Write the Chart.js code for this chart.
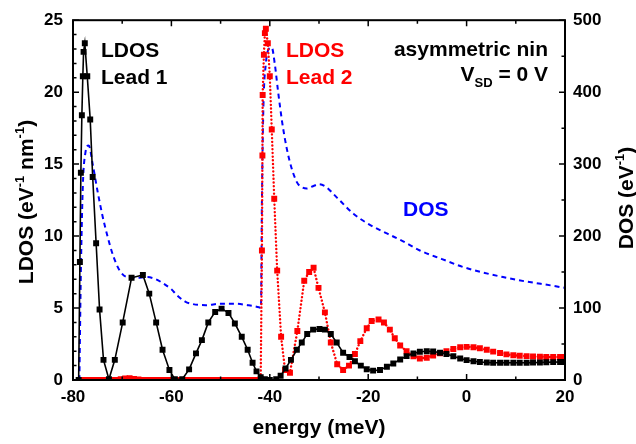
<!DOCTYPE html>
<html><head><meta charset="utf-8">
<script src="https://cdn.jsdelivr.net/npm/chart.js@4.4.1/dist/chart.umd.min.js"></script>
<style>html,body{margin:0;padding:0;background:#fff;}#wrap{width:636px;height:444px;}</style>
</head><body><div id="wrap"><canvas id="c" width="636" height="444"></canvas></div>
<script>
// ---- data ----
const energyLead1 = [-78.85,-78.6,-78.4,-78.2,-78.0,-77.85,-77.6,-77.1,-76.5,-76.0,-75.3,-74.6,-73.8,-72.7,-71.5,-69.9,-68.1,-65.8,-64.5,-63.1,-61.8,-60.4,-59.3,-57.8,-56.4,-55.0,-53.8,-52.5,-51.1,-49.8,-48.4,-47.1,-45.7,-44.5,-43.5,-42.7,-41.85,-41.0,-40.0,-38.7,-37.8,-36.8,-35.7,-34.5,-33.5,-32.4,-31.2,-29.9,-28.8,-27.6,-26.4,-25.1,-23.8,-22.7,-21.5,-20.3,-19.0,-17.6,-16.2,-14.9,-13.5,-12.2,-10.8,-9.5,-8.1,-6.8,-5.4,-4.1,-2.7,-1.3,0.0,1.4,2.7,4.1,5.4,6.8,8.1,9.5,10.8,12.2,13.5,14.9,16.2,17.6,19.0,20.0];
const ldosLead1 = [0,8.2,14.4,18.4,21.1,22.8,23.4,21.1,18.1,14.1,9.5,4.9,1.4,0.05,1.4,4.0,7.1,7.3,6.0,4.0,2.1,0.7,0.05,0.05,0.74,1.85,2.77,4.0,4.73,4.96,4.66,3.93,3.0,2.1,1.2,0.6,0.2,0.05,0.0,0.05,0.3,0.8,1.4,2.1,2.6,3.2,3.5,3.55,3.5,3.2,2.6,1.9,1.6,1.3,1.0,0.75,0.65,0.7,0.92,1.15,1.43,1.66,1.84,1.96,2.0,1.98,1.9,1.8,1.65,1.5,1.38,1.3,1.25,1.22,1.2,1.2,1.2,1.2,1.2,1.2,1.21,1.22,1.23,1.24,1.25,1.25];

const energyLead2 = [-78.4,-77.5,-76.6,-75.7,-74.8,-73.9,-73.0,-72.1,-71.2,-70.3,-69.4,-68.5,-67.6,-66.7,-65.8,-64.9,-64.0,-63.1,-62.2,-61.3,-60.4,-59.5,-58.6,-57.7,-56.8,-55.9,-55.0,-54.1,-53.2,-52.3,-51.4,-50.5,-49.6,-48.7,-47.8,-46.9,-46.0,-45.1,-44.2,-43.3,-42.4,-41.85,-41.6,-41.5,-41.45,-41.2,-41.0,-40.8,-40.4,-40.0,-39.6,-39.1,-38.5,-37.7,-36.9,-35.9,-34.4,-33.0,-32.0,-31.1,-30.1,-28.8,-27.6,-26.3,-25.1,-23.9,-22.7,-21.6,-20.3,-19.3,-17.9,-16.8,-15.6,-14.6,-13.5,-12.2,-10.8,-9.5,-8.1,-6.8,-5.4,-4.1,-2.7,-1.3,0.0,1.4,2.7,4.1,5.4,6.8,8.1,9.5,10.8,12.2,13.5,14.9,16.2,17.6,19.0,20.0];
const ldosLead2 = [0,0,0,0,0,0,0,0,0,0.05,0.1,0.12,0.08,0.03,0,0,0,0,0,0,0,0,0,0,0,0,0,0,0,0,0,0,0,0,0,0,0,0,0,0,0,0.07,9.0,15.6,19.8,22.6,24.1,24.4,23.4,21.1,17.4,12.6,7.6,3.0,0.7,0.5,3.4,6.9,7.5,7.8,6.4,4.7,2.6,1.1,0.7,1.0,1.8,2.7,3.6,4.1,4.2,4.0,3.5,2.9,2.4,2.0,1.65,1.5,1.55,1.7,1.85,2.0,2.15,2.28,2.3,2.28,2.2,2.1,1.97,1.88,1.78,1.72,1.68,1.66,1.63,1.62,1.6,1.6,1.6,1.6];

const energyDos = [-78.7,-78.4,-78.0,-77.5,-76.8,-76.0,-75.0,-74.0,-73.0,-71.8,-70.5,-69.0,-67.0,-65.0,-63.5,-61.6,-60.0,-58.9,-57.2,-56.0,-53.0,-50.0,-47.0,-44.5,-42.2,-41.8,-41.6,-41.3,-40.8,-40.2,-39.6,-39.0,-38.3,-37.3,-36.0,-34.5,-33.5,-32.5,-31.0,-30.0,-28.5,-27.0,-25.7,-23.0,-20.0,-16.0,-13.0,-9.5,-5.0,-0.7,3.0,7.4,12.0,17.5,20.0];
const dosValues = [0,150,270,315,326,300,262,228,200,172,152,143,142,143,141,134,126,118,109,106,104,106,106,104,101,100,250,380,440,460,462,440,400,350,305,275,268,266,270,272,268,258,249,231,217,203,193,180,168,157,150,143,137,131,128];

const xTickLabels = [-80,-60,-40,-20,0,20];
const ldosTickLabels = [0,5,10,15,20,25];
const dosTickLabels = [0,100,200,300,400,500];

// ---- styling ----
const FONT = '"Liberation Sans", Arial, Helvetica, sans-serif';
const pts = (xs, ys) => xs.map((v, i) => ({x: v, y: ys[i]}));

function richText(ctx, parts, x, y, size, align) {
  let w = 0;
  parts.forEach(p => {
    ctx.font = 'bold ' + (p.s ? Math.round(size * 0.62) : size) + 'px ' + FONT;
    p.w = ctx.measureText(p.t).width; w += p.w;
  });
  let cx = align === 'center' ? x - w / 2 : (align === 'right' ? x - w : x);
  parts.forEach(p => {
    ctx.font = 'bold ' + (p.s ? Math.round(size * 0.62) : size) + 'px ' + FONT;
    const dy = p.s === 'sup' ? -size * 0.42 : (p.s === 'sub' ? size * 0.28 : 0);
    ctx.fillText(p.t, cx, y + dy);
    cx += p.w;
  });
}

const decor = {
  id: 'decor',
  afterDraw(chart) {
    const {ctx, chartArea: {left, right, top, bottom}, scales: {x, y, y2}} = chart;
    ctx.save();
    ctx.strokeStyle = '#000';
    ctx.lineWidth = 1.5;
    ctx.beginPath();
    const tick = (sx, sy, dx, dy) => { ctx.moveTo(sx, sy); ctx.lineTo(sx + dx, sy + dy); };
    for (let v = x.min; v <= x.max + 1e-9; v += 10) {
      const px = x.getPixelForValue(v);
      const L = (Math.round(v) % 20 === 0) ? 6 : 3.5;
      tick(px, bottom, 0, -L); tick(px, top, 0, L);
    }
    for (let v = y.min; v <= y.max + 1e-9; v += 1) {
      const py = y.getPixelForValue(v);
      tick(left, py, (Math.round(v) % 5 === 0) ? 6 : 3.5, 0);
    }
    for (let v = y2.min; v <= y2.max + 1e-9; v += 50) {
      const py = y2.getPixelForValue(v);
      tick(right, py, -((Math.round(v) % 100 === 0) ? 6 : 3.5), 0);
    }
    ctx.stroke();
    ctx.lineWidth = 2;
    ctx.strokeRect(left, top, right - left, bottom - top);

    // annotations
    ctx.textBaseline = 'alphabetic';
    ctx.textAlign = 'left';
    ctx.fillStyle = '#000';
    ctx.font = 'bold 21px ' + FONT;
    ctx.fillText('LDOS', 101, 57);
    ctx.fillText('Lead 1', 101, 84);
    ctx.fillStyle = '#ff0000';
    ctx.fillText('LDOS', 286, 57);
    ctx.fillText('Lead 2', 286, 84);
    ctx.fillStyle = '#000';
    richText(ctx, [{t: 'asymmetric nin'}], 548, 56, 21, 'right');
    richText(ctx, [{t: 'V'}, {t: 'SD', s: 'sub'}, {t: ' = 0 V'}], 548, 81, 21, 'right');
    ctx.fillStyle = '#0000ff';
    richText(ctx, [{t: 'DOS'}], 403, 216, 21, 'left');

    // axis titles
    ctx.fillStyle = '#000';
    richText(ctx, [{t: 'energy (meV)'}], (left + right) / 2, 434, 21, 'center');
    ctx.save();
    ctx.translate(33, 202); ctx.rotate(-Math.PI / 2);
    richText(ctx, [{t: 'LDOS (eV'}, {t: '-1', s: 'sup'}, {t: ' nm'}, {t: '-1', s: 'sup'}, {t: ')'}], 0, 0, 21, 'center');
    ctx.restore();
    ctx.save();
    ctx.translate(633, 198); ctx.rotate(-Math.PI / 2);
    richText(ctx, [{t: 'DOS (eV'}, {t: '-1', s: 'sup'}, {t: ')'}], 0, 0, 21, 'center');
    ctx.restore();
    ctx.restore();
  }
};

const tickFont = {family: FONT, size: 17, weight: 'bold'};

new Chart(document.getElementById('c'), {
  type: 'scatter',
  data: {
    datasets: [
      {label: 'LDOS Lead 1', data: pts(energyLead1, ldosLead1), yAxisID: 'y', showLine: true,
       borderColor: '#000', backgroundColor: '#000', borderWidth: 1.6, tension: 0,
       pointStyle: 'rect', pointRadius: 4.2, pointBorderWidth: 0, pointBackgroundColor: '#000'},
      {label: 'LDOS Lead 2', data: pts(energyLead2, ldosLead2), yAxisID: 'y', showLine: true,
       borderColor: '#ff0000', backgroundColor: '#ff0000', borderWidth: 2.4, borderDash: [0.1, 3.6], borderCapStyle: 'round', tension: 0,
       pointStyle: 'rect', pointRadius: 4.2, pointBorderWidth: 0, pointBackgroundColor: '#ff0000'},
      {label: 'DOS', data: pts(energyDos, dosValues), yAxisID: 'y2', showLine: true,
       borderColor: '#0000ff', borderWidth: 2, borderDash: [5, 4], cubicInterpolationMode: 'monotone',
       pointRadius: 0}
    ]
  },
  options: {
    responsive: false, animation: false, devicePixelRatio: 1,
    layout: {padding: {top: 19, left: 0, right: 0, bottom: 0}},
    plugins: {legend: {display: false}, tooltip: {enabled: false}},
    scales: {
      x: {type: 'linear', min: -80, max: 20, position: 'bottom',
          afterBuildTicks: s => { s.ticks = xTickLabels.map(v => ({value: v})); },
          ticks: {font: tickFont, color: '#000', padding: 7, maxRotation: 0},
          grid: {display: false, drawTicks: false}, border: {display: false},
          afterFit: s => { s.height = 64; }},
      y: {type: 'linear', min: 0, max: 25, position: 'left',
          afterBuildTicks: s => { s.ticks = ldosTickLabels.map(v => ({value: v})); },
          ticks: {font: tickFont, color: '#000', padding: 10},
          grid: {display: false, drawTicks: false}, border: {display: false},
          afterFit: s => { s.width = 73; }},
      y2: {type: 'linear', min: 0, max: 500, position: 'right',
          afterBuildTicks: s => { s.ticks = dosTickLabels.map(v => ({value: v})); },
          ticks: {font: tickFont, color: '#000', padding: 8},
          grid: {display: false, drawTicks: false}, border: {display: false},
          afterFit: s => { s.width = 71; }}
    }
  },
  plugins: [decor]
});
</script></body></html>
